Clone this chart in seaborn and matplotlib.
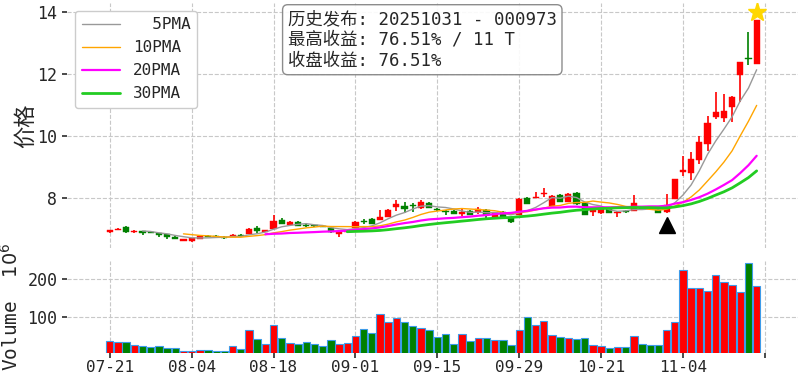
import numpy as np
import pandas as pd
import matplotlib
matplotlib.use("Agg")
import matplotlib.pyplot as plt
import seaborn as sns

# Daily bars, index 0 = 2025-07-21 (trading days)
opens = [6.89, 6.96, 7.06, 6.88, 6.93, 6.90, 6.86, 6.83, 6.74, 6.61,
         6.61, 6.68, 6.77, 6.77, 6.74, 6.73, 6.80, 6.84, 7.03, 6.90,
         6.99, 7.29, 7.13, 7.22, 7.13, 7.12, 7.10, 7.03, 6.84, 6.90,
         7.03, 7.26, 7.32, 7.29, 7.39, 7.70, 7.74, 7.77, 7.68, 7.84,
         7.64, 7.58, 7.58, 7.48, 7.58, 7.55, 7.61, 7.39, 7.55, 7.35,
         7.45, 8.00, 8.00, 8.13, 7.74, 8.10, 7.87, 8.16, 7.84, 7.55,
         7.52, 7.64, 7.52, 7.58, 7.58, 7.68, 7.66, 7.61, 7.55, 7.97,
         8.84, 8.80, 9.23, 9.74, 10.61, 10.58, 10.94, 11.97, 12.52, 12.32]
closes = [6.95, 7.00, 6.88, 6.94, 6.85, 6.87, 6.78, 6.72, 6.68, 6.65,
          6.69, 6.75, 6.74, 6.74, 6.69, 6.81, 6.76, 7.00, 6.92, 6.96,
          7.26, 7.16, 7.22, 7.10, 7.07, 7.07, 7.05, 6.88, 6.90, 6.95,
          7.22, 7.22, 7.16, 7.39, 7.61, 7.80, 7.64, 7.72, 7.87, 7.68,
          7.60, 7.55, 7.48, 7.55, 7.45, 7.64, 7.45, 7.52, 7.39, 7.23,
          7.97, 7.80, 8.03, 8.16, 8.06, 7.87, 8.13, 7.80, 7.45, 7.64,
          7.64, 7.52, 7.55, 7.53, 7.84, 7.64, 7.62, 7.52, 7.78, 8.61,
          8.90, 9.26, 9.81, 10.42, 10.77, 10.81, 11.26, 12.39, 12.48, 13.73]
highs = [6.97, 7.02, 7.07, 6.95, 6.94, 6.91, 6.87, 6.84, 6.76, 6.66,
         6.70, 6.76, 6.78, 6.78, 6.75, 6.82, 6.82, 7.01, 7.08, 6.97,
         7.45, 7.33, 7.24, 7.25, 7.15, 7.13, 7.11, 7.05, 6.92, 6.97,
         7.24, 7.30, 7.33, 7.60, 7.63, 7.92, 7.86, 7.82, 7.92, 7.86,
         7.66, 7.59, 7.60, 7.66, 7.60, 7.71, 7.63, 7.53, 7.56, 7.36,
         7.98, 8.02, 8.20, 8.30, 8.08, 8.12, 8.14, 8.20, 7.85, 7.65,
         7.65, 7.65, 7.56, 7.59, 8.10, 7.69, 7.67, 7.62, 8.12, 8.62,
         9.36, 9.48, 10.00, 10.65, 11.42, 11.35, 11.28, 12.40, 13.35, 13.74]
lows = [6.87, 6.95, 6.87, 6.87, 6.80, 6.86, 6.74, 6.68, 6.66, 6.60,
        6.56, 6.67, 6.73, 6.73, 6.67, 6.72, 6.72, 6.83, 6.86, 6.89,
        6.98, 7.15, 7.12, 7.09, 7.05, 7.06, 7.04, 6.86, 6.72, 6.89,
        7.02, 7.15, 7.15, 7.28, 7.38, 7.56, 7.52, 7.55, 7.64, 7.66,
        7.58, 7.43, 7.47, 7.40, 7.44, 7.47, 7.36, 7.38, 7.38, 7.17,
        7.44, 7.79, 7.99, 8.02, 7.73, 7.86, 7.86, 7.78, 7.44, 7.42,
        7.48, 7.51, 7.38, 7.52, 7.57, 7.63, 7.61, 7.51, 7.50, 7.96,
        8.70, 8.58, 9.10, 9.50, 10.55, 10.45, 10.45, 11.10, 12.29, 12.31]
# volume in units of 1e6
volumes = [38.5, 35, 35, 27, 24.6, 22, 24.6, 20.5, 20.5, 12.8,
           12.8, 16, 16, 13.5, 13.5, 25.6, 18.7, 68, 43.6, 31.5,
           79.5, 46, 33, 31.5, 36.7, 31.5, 24.6, 41.8, 31.5, 33,
           52, 70, 59, 108.5, 89, 97.4, 87, 78, 72.6, 66.7,
           47.7, 57, 29.9, 57, 38.5, 45, 45, 41, 41, 27,
           68, 101.5, 79.5, 90.5, 53.8, 47.7, 45, 42.6, 45, 27,
           25.6, 20.5, 22, 22, 51, 30, 27, 27, 68, 89,
           224, 176, 176, 169, 211, 192, 183.6, 166.7, 241, 181]

tick_labels = ['07-21', '08-04', '08-18', '09-01', '09-15', '09-29', '10-21', '11-04', '']

event_idx = 68          # 2025-10-31 announcement
ma_windows = [5, 10, 20, 30]
ma_labels = ['  5PMA', '10PMA', '20PMA', '30PMA']
ma_colors = ['#999999', 'orange', 'magenta', '#22cc22']
ma_widths = [1.0, 1.0, 1.6, 2.0]

info_lines = ['历史发布: 20251031 - 000973',
              '最高收益: 76.51% / 11 T',
              '收盘收益: 76.51%']

sns.set_theme(style='whitegrid', rc={'grid.linestyle': '--', 'grid.color': '#c8c8c8',
                                     'grid.linewidth': 0.8})
# half-width monospace latin + CJK fallback, close to the SimHei look
plt.rcParams['font.family'] = ['DejaVu Sans Mono', 'Noto Sans CJK SC']
plt.rcParams['axes.unicode_minus'] = False

df = pd.DataFrame({'idx': np.arange(len(closes)), 'open': opens, 'close': closes,
                   'high': highs, 'low': lows, 'vol': volumes})
df['dir'] = np.where(df['close'] >= df['open'], 'up', 'down')
colors = np.where(df['dir'] == 'up', 'red', 'green')

fig = plt.figure(figsize=(8, 3.8), dpi=100)
ax = fig.add_axes([0.084, 0.347, 0.913, 0.645])
axv = fig.add_axes([0.084, 0.072, 0.913, 0.24], sharex=ax)

# candles
ax.vlines(df['idx'], df['low'], df['high'], colors=colors, lw=1.2, zorder=2)
body_lo = df[['open', 'close']].min(axis=1)
body_h = (df['close'] - df['open']).abs().clip(lower=0.02)
ax.bar(df['idx'], body_h, bottom=body_lo, width=0.75, color=colors,
       edgecolor=colors, linewidth=0.3, zorder=2)

# moving averages
for w, lab, c, lw in zip(ma_windows, ma_labels, ma_colors, ma_widths):
    df[f'ma{w}'] = df['close'].rolling(w).mean()
    sns.lineplot(data=df, x='idx', y=f'ma{w}', color=c, lw=lw, label=lab, ax=ax, zorder=3)

# event markers
ax.plot(event_idx, df['low'][event_idx] * 0.95, marker='^', color='black', ms=11, zorder=4)
top_i = df['high'].idxmax()
ax.plot(top_i, df['high'][top_i] * 1.02, marker='*', color='#FFD700', ms=14, zorder=4)

ax.legend(loc='upper left', fontsize=11.5, handlelength=2.4, frameon=True,
          edgecolor='#cccccc', framealpha=1)
ax.text(0.302, 0.972, '\n'.join(info_lines), transform=ax.transAxes, va='top', ha='left',
        fontsize=12.5, linespacing=1.2,
        bbox=dict(boxstyle='round,pad=0.3', fc='white', ec='gray', alpha=0.9))

ax.set_ylim(6.37, 14.29)
ax.set_yticks([8, 10, 12, 14])
ax.set_ylabel('价格', fontsize=16, labelpad=1)
ax.set_xlabel('')
ax.tick_params(axis='x', labelbottom=False, bottom=False)

# volume
sns.barplot(data=df, x='idx', y='vol', hue='dir', palette={'up': 'red', 'down': 'green'},
            native_scale=True, dodge=False, width=0.9, errorbar=None, legend=False,
            saturation=1, edgecolor='#3d9be9', linewidth=0.8, ax=axv)
axv.set_ylim(8, 246)
axv.set_yticks([100, 200])
axv.set_ylabel('Volume  $10^6$', fontsize=14)
axv.set_xlabel('')

axv.set_xticks(np.arange(0, 81, 10))
axv.set_xticklabels(tick_labels)
axv.set_xlim(-5.2, 84)

for a in (ax, axv):
    for s in a.spines.values():
        s.set_visible(False)
    a.grid(True, axis='both')
    a.tick_params(axis='y', left=True, length=3.5, color='#333333', labelsize=12)
axv.tick_params(axis='x', bottom=True, length=3.5, pad=2, color='#333333', labelsize=11.5)

fig.savefig('out.png', dpi=100)
